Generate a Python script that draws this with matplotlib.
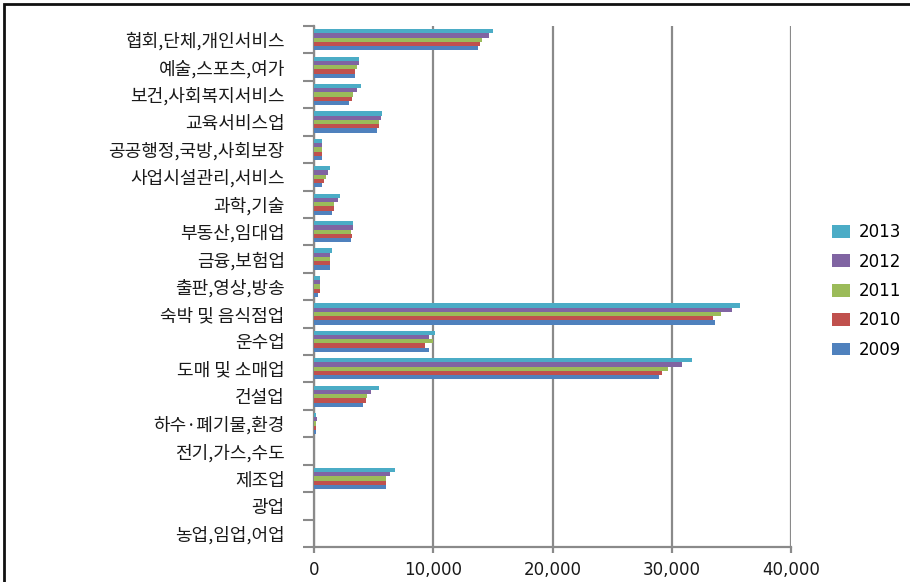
import matplotlib
matplotlib.use("Agg")
import matplotlib.pyplot as plt
from matplotlib.patches import Rectangle
import numpy as np

plt.rcParams['font.family'] = ['Noto Sans CJK KR', 'DejaVu Sans']

# categories, bottom to top
categories = ["농업,임업,어업", "광업", "제조업", "전기,가스,수도", "하수·폐기물,환경",
              "건설업", "도매 및 소매업", "운수업", "숙박 및 음식점업", "출판,영상,방송",
              "금융,보험업", "부동산,임대업", "과학,기술", "사업시설관리,서비스",
              "공공행정,국방,사회보장", "교육서비스업", "보건,사회복지서비스",
              "예술,스포츠,여가", "협회,단체,개인서비스"]

years = ["2009", "2010", "2011", "2012", "2013"]
colors = ["#4F81BD", "#C0504D", "#9BBB59", "#8064A2", "#4BACC6"]

v2009 = [0, 0, 6070, 0, 200, 4140, 28900, 9670, 33630, 340, 1340, 3130, 1510, 670, 650, 5280, 2960, 3470, 13730]
v2010 = [0, 0, 6070, 0, 200, 4330, 29210, 9340, 33490, 500, 1340, 3160, 1680, 840, 650, 5450, 3160, 3440, 13920]
v2011 = [0, 0, 6070, 0, 200, 4470, 29710, 9980, 34130, 500, 1340, 3130, 1680, 1000, 660, 5420, 3300, 3630, 14060]
v2012 = [0, 0, 6400, 0, 220, 4780, 30890, 9640, 35080, 500, 1340, 3300, 2010, 1200, 650, 5590, 3630, 3800, 14700]
v2013 = [0, 0, 6770, 0, 150, 5420, 31670, 10150, 35750, 500, 1510, 3270, 2150, 1340, 670, 5730, 3970, 3800, 15040]
series = [v2009, v2010, v2011, v2012, v2013]

fig = plt.figure(figsize=(9.1, 5.82), dpi=100)
ax = fig.add_axes([314 / 910, 1 - 547 / 582, (791 - 314) / 910, (547 - 26) / 582])

y = np.arange(len(categories))
h = 0.155
bars = []
for j, vals in enumerate(series):
    b = ax.barh(y + (j - 2) * h, vals, height=h, color=colors[j], label=years[j], zorder=3)
    bars.append(b)

ax.set_xlim(0, 40000)
ax.set_ylim(-0.5, len(categories) - 0.5)
ax.set_xticks([0, 10000, 20000, 30000, 40000])
ax.set_xticklabels(["0", "10,000", "20,000", "30,000", "40,000"], family="DejaVu Sans")
ax.set_yticks(y)
ax.set_yticklabels(categories)
ax.set_yticks(np.arange(-0.5, len(categories)), minor=True)

gc = "#8a8a8a"
ax.grid(axis="x", color=gc, linewidth=1.6, zorder=0)
ax.tick_params(axis="y", which="major", length=0, pad=21, labelsize=13, colors="#1a1a1a")
ax.tick_params(axis="y", which="minor", length=8, width=1.5, color=gc)
ax.tick_params(axis="x", length=4, width=1.6, color=gc, pad=6, labelsize=12, labelcolor="#1a1a1a")

for s in ["top", "right"]:
    ax.spines[s].set_visible(False)
for s in ["left", "bottom"]:
    ax.spines[s].set_color(gc)
    ax.spines[s].set_linewidth(1.6)

handles = bars[::-1]
fig.legend(handles, years[::-1], loc="center left", bbox_to_anchor=(817 / 910, 1 - 291 / 582),
           frameon=False, handlelength=1.1, handleheight=0.8,
           handletextpad=0.5, labelspacing=0.68, prop={"family": "DejaVu Sans", "size": 12})

fig.patches.append(Rectangle((4 / 910, -0.1), 1.2, 1 - 4 / 582 + 0.1, transform=fig.transFigure,
                             fill=False, edgecolor="#111111", linewidth=2))

fig.savefig("out.png", dpi=100)
